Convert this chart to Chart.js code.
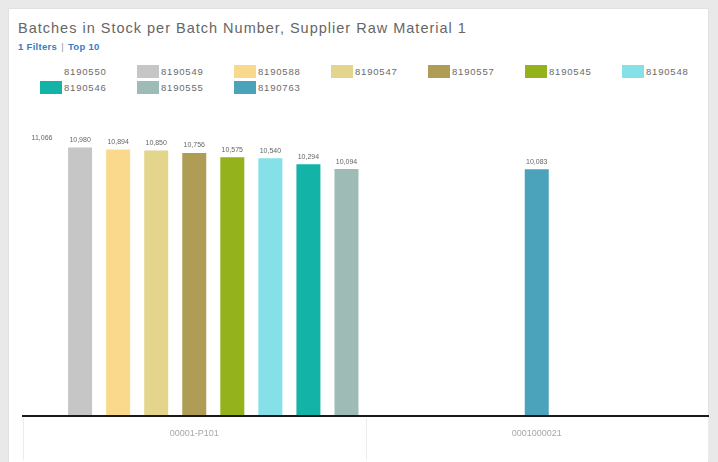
<!DOCTYPE html>
<html>
<head>
<meta charset="utf-8">
<script src="https://cdn.jsdelivr.net/npm/chart.js@4"></script>
<style>
  html, body { margin: 0; padding: 0; }
  body { width: 718px; height: 462px; background: #e9e9e9; position: relative; overflow: hidden; font-family: "Liberation Sans", Arial, sans-serif; }
  #card { position: absolute; left: 8px; top: 8px; width: 701px; height: 460px; background: #fff; border: 1px solid #e2e2e2; box-sizing: border-box; }
  #title { position: absolute; left: 18px; top: 20px; font-size: 14.5px; letter-spacing: 1px; color: #666; white-space: nowrap; }
  #sub { position: absolute; left: 18px; top: 41px; font-size: 9.5px; font-weight: bold; color: #3a7bc8; white-space: nowrap; letter-spacing: 0.3px; }
  #sub .sep { color: #9a9a9a; font-weight: normal; padding: 0 4px; }
  #legend { position: absolute; left: 40px; top: 63px; width: 680px; }
  .item { float: left; width: 97px; height: 16px; display: flex; align-items: center; font-size: 9.5px; letter-spacing: 0.8px; color: #6a6a6a; }
  .sw { width: 22px; height: 13px; margin-right: 2px; flex: none; }
  #wrap { position: absolute; left: 0; top: 0; width: 718px; height: 462px; }
</style>
</head>
<body>
<div id="card"></div>
<div id="title">Batches in Stock per Batch Number, Supplier Raw Material 1</div>
<div id="sub">1 Filters<span class="sep">|</span>Top 10</div>
<div id="legend"></div>
<div id="wrap"><canvas id="stockChart" width="718" height="462"></canvas></div>
<script>
document.addEventListener('DOMContentLoaded', function() {
    var categories = ['00001-P101', '0001000021'];
    var batches = ['8190550', '8190549', '8190588', '8190547', '8190557', '8190545', '8190548', '8190546', '8190555', '8190763'];
    var colors = ['#ffffff', '#c6c6c6', '#fbd98c', '#e3d58c', '#b09d55', '#93b21c', '#85e1e7', '#13b3a7', '#9fbbb5', '#4aa3bb'];
    // one value per category for each batch, null where the batch is not in stock
    var stock = [
        [11066, null],
        [10980, null],
        [10894, null],
        [10850, null],
        [10756, null],
        [10575, null],
        [10540, null],
        [10294, null],
        [10094, null],
        [null, 10083]
    ];
    var yMax = 12100;

    // legend as a fixed grid like the original
    var legend = document.getElementById('legend');
    batches.forEach(function(b, i) {
        var item = document.createElement('div');
        item.className = 'item';
        var sw = document.createElement('span');
        sw.className = 'sw';
        sw.style.background = colors[i];
        item.appendChild(sw);
        item.appendChild(document.createTextNode(b));
        legend.appendChild(item);
    });

    var valueLabels = {
        id: 'valueLabels',
        afterDatasetsDraw: function(chart) {
            var ctx = chart.ctx;
            ctx.save();
            ctx.font = '7px "Liberation Sans", Arial, sans-serif';
            ctx.fillStyle = '#666';
            ctx.textAlign = 'center';
            ctx.textBaseline = 'bottom';
            chart.data.datasets.forEach(function(ds, i) {
                var meta = chart.getDatasetMeta(i);
                meta.data.forEach(function(bar, j) {
                    var v = ds.data[j];
                    if (v === null) return;
                    ctx.fillText(v.toLocaleString('en-US'), bar.x, bar.y - 4);
                });
            });
            ctx.restore();
        }
    };

    // faint separators below the axis, and the axis line again on top of the bars
    var separators = {
        id: 'separators',
        afterDraw: function(chart) {
            var x = chart.scales.x;
            var ctx = chart.ctx;
            var step = x.width / chart.data.labels.length;
            ctx.save();
            ctx.strokeStyle = '#ececec';
            ctx.lineWidth = 1;
            for (var i = 0; i <= chart.data.labels.length; i++) {
                var px = Math.round(x.left + step * i) + 0.5;
                ctx.beginPath();
                ctx.moveTo(px, x.top + 2);
                ctx.lineTo(px, x.top + 44);
                ctx.stroke();
            }
            ctx.fillStyle = '#1a1a1a';
            ctx.fillRect(x.left, Math.round(x.top) - 1, x.right - x.left, 2);
            ctx.restore();
        }
    };

    var ctx = document.getElementById('stockChart').getContext('2d');
    var stockChart = new Chart(ctx, {
        type: 'bar',
        data: {
            labels: categories,
            datasets: batches.map(function(b, i) {
                return {
                    label: b,
                    data: stock[i],
                    backgroundColor: colors[i],
                    borderWidth: 0,
                    skipNull: true,
                    categoryPercentage: 1.0,
                    barPercentage: 0.64,
                    maxBarThickness: 24
                };
            })
        },
        options: {
            responsive: false,
            animation: false,
            layout: { padding: { left: 23, right: 10, top: 120, bottom: 19 } },
            plugins: {
                legend: { display: false },
                tooltip: { enabled: false }
            },
            scales: {
                x: {
                    grid: { display: false },
                    border: { display: true, color: '#1a1a1a', width: 2 },
                    ticks: { padding: 4, color: '#a8a8a8', font: { size: 9, family: '"Liberation Sans", Arial, sans-serif' } }
                },
                y: {
                    display: false,
                    min: 0,
                    max: yMax
                }
            }
        },
        plugins: [valueLabels, separators]
    });
});
</script>
</body>
</html>
